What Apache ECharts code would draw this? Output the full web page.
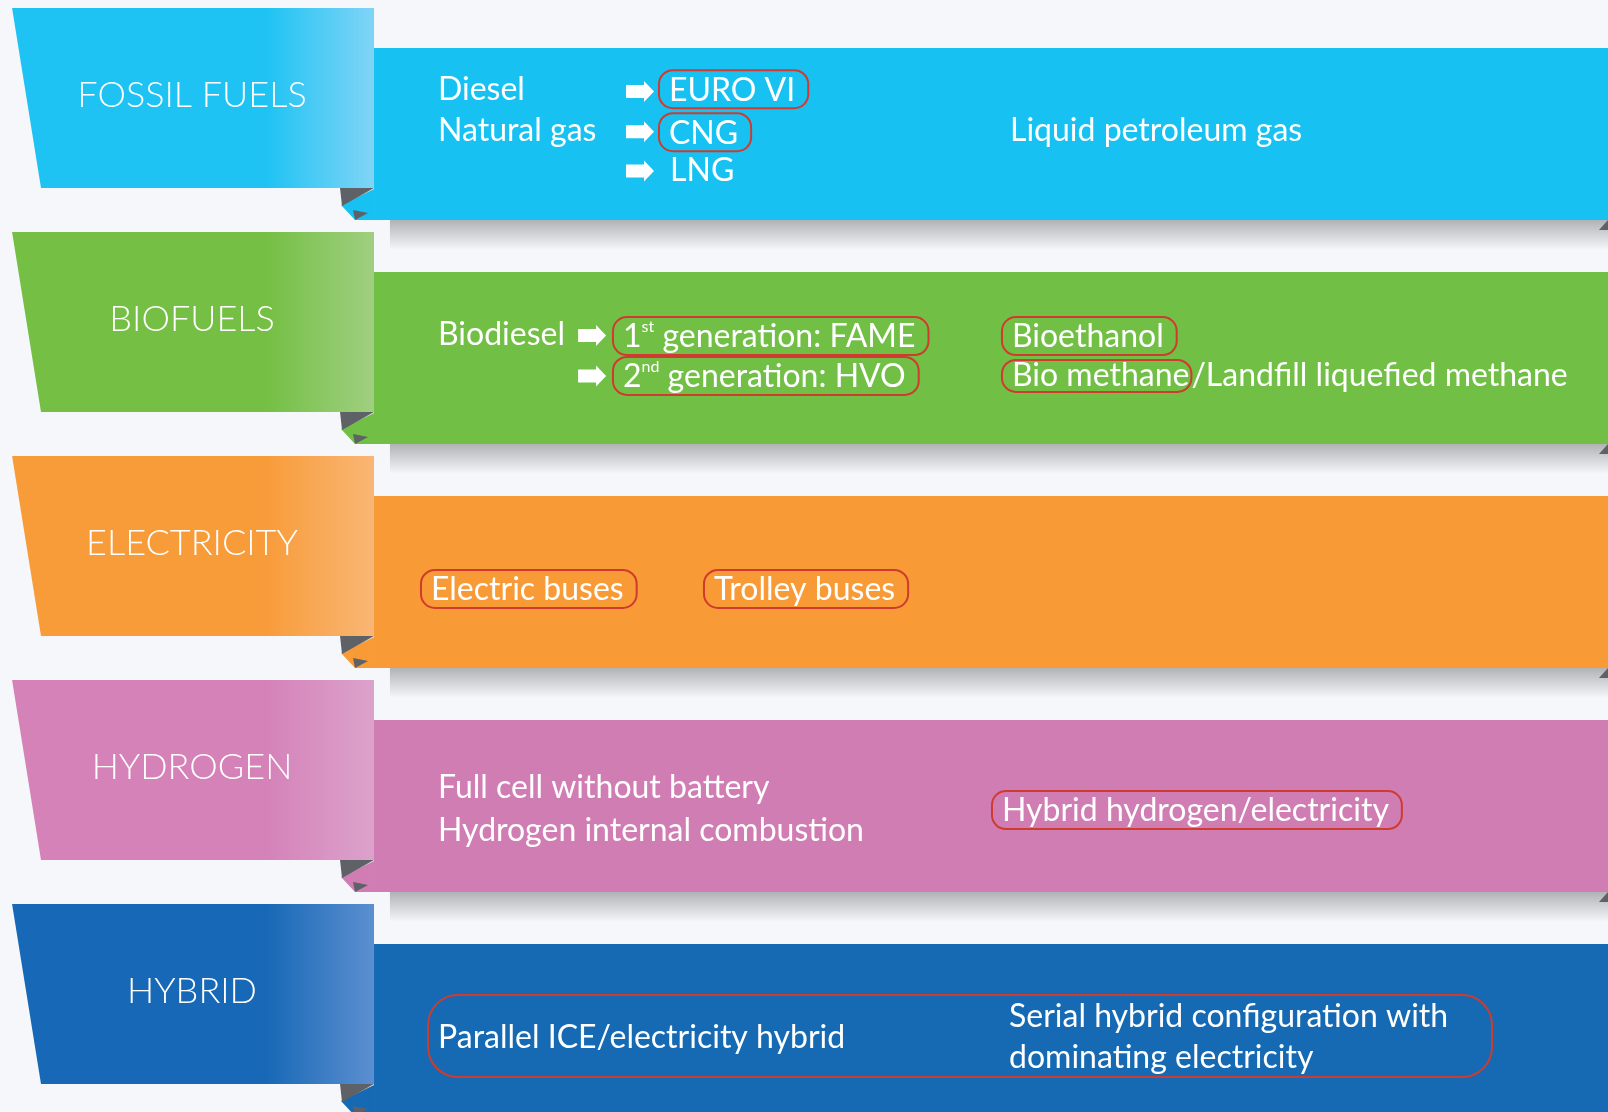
<!DOCTYPE html>
<html>
<head>
<meta charset="utf-8">
<script src="https://cdn.jsdelivr.net/npm/echarts@6/dist/echarts.min.js"></script>
<style>
  html, body { margin: 0; padding: 0; background: #f5f7fa; }
  #chart { width: 1608px; height: 1112px; }
</style>
</head>
<body>
<div id="chart"></div>
<script>
// rows of the infographic
const categories = ["FOSSIL FUELS", "BIOFUELS", "ELECTRICITY", "HYDROGEN", "HYBRID"];
const bandColors = ["#17c2f2", "#71bf45", "#f89a36", "#d07db4", "#156ab3"];
const ribbonColors = ["#1ec3f3", "#74bf44", "#f89c3a", "#d482b8", "#1768b6"];
const ribbonLight = ["#80d4f6", "#a0cf80", "#f9b674", "#dca2cc", "#5c8fd0"];

// texts inside each band: row index, text, boxed in red
const entryRow = [0, 0, 0, 0, 0, 0, 1, 1, 1, 1, 1, 2, 2, 3, 3, 3, 4, 4];
const entryText = [
  "Diesel", "Natural gas", "EURO VI", "CNG", "LNG", "Liquid petroleum gas",
  "Biodiesel", "1{sup|st} generation: FAME", "2{sup|nd} generation: HVO", "Bioethanol",
  "{b|Bio methane}/Landfill liquefied methane",
  "Electric buses", "Trolley buses",
  "Full cell without battery", "Hydrogen internal combustion", "Hybrid hydrogen/electricity",
  "Parallel ICE/electricity hybrid", "Serial hybrid configuration with\ndominating electricity"
];
const entryBoxed = [false, false, true, true, false, false,
  false, true, true, true, false,
  true, true,
  false, false, true,
  false, false];
// arrows (row index)
const arrowRow = [0, 0, 0, 1, 1];
// red frame grouping both hybrid configurations
const frameRow = [4];

// ---- layout (x in axis units 0-100, dy as fraction of a row) ----
const entryPos = [
  [27.24, -0.196], [27.24, -0.015], [40.98, -0.2], [40.98, -0.008], [41.67, 0.163], [62.81, -0.015],
  [27.24, -0.103], [38.12, -0.098], [38.12, 0.08], [62.31, -0.098], [62.31, 0.08],
  [26.18, 0.031], [43.78, 0.031],
  [27.24, -0.082], [27.24, 0.11], [61.69, 0.018],
  [27.24, 0.036], [62.75, 0.033]
];
const arrowPos = [[38.93, -0.19], [38.93, -0.01], [38.93, 0.165], [35.95, -0.1], [35.95, 0.08]];
const framePos = [[26.62, 92.79, 0.027, 0.366]];

const ribbonTopLeftX = 0.75, ribbonBotLeftX = 2.55, ribbonRightX = 23.26, titleX = 11.94;
const shadowStartX = 24.25;
const bandHalf = 0.384, ribbonTop = -0.5625, ribbonBot = 0.241, titleDy = -0.174;
const boxRed = "#cf3b2e";
const fold = "#5e6166";
const font = "Lato, 'Open Sans', sans-serif";

const chart = echarts.init(document.getElementById("chart"));

function renderRow(params, api) {
  const name = api.value(1);
  const i = params.dataIndex;
  const slot = api.size([0, 1])[1];
  const yMid = api.coord([0, name])[1];
  const xTL = api.coord([ribbonTopLeftX, name])[0];
  const xBL = api.coord([ribbonBotLeftX, name])[0];
  const xR = api.coord([ribbonRightX, name])[0];
  const xEnd = api.coord([100, name])[0];
  const xSh = api.coord([shadowStartX, name])[0];
  const bTop = yMid - bandHalf * slot, bBot = yMid + bandHalf * slot;
  const rTop = yMid + ribbonTop * slot, rBot = yMid + ribbonBot * slot;
  const title = api.coord([titleX, name])[0];
  return {
    type: "group",
    children: [
      {
        type: "rect",
        shape: { x: xSh, y: bBot, width: xEnd - xSh, height: 30 },
        style: {
          fill: new echarts.graphic.LinearGradient(0, 0, 0, 1, [
            { offset: 0, color: "rgba(0,0,0,0.28)" },
            { offset: 1, color: "rgba(0,0,0,0)" }
          ])
        }
      },
      {
        type: "rect",
        shape: { x: xR, y: bTop, width: xEnd - xR, height: bBot - bTop },
        style: { fill: bandColors[i] }
      },
      {
        type: "polygon",
        shape: { points: [[xEnd - 9, bBot + 10], [xEnd, bBot], [xEnd, bBot + 10]] },
        style: { fill: fold }
      },
      {
        type: "polygon",
        shape: { points: [[xR - 33, rBot + 17], [xR, rBot + 1], [xR, bBot], [xR - 19, bBot]] },
        style: { fill: bandColors[i] }
      },
      {
        type: "polygon",
        shape: { points: [[xR - 34, rBot], [xR, rBot], [xR - 32, rBot + 18]] },
        style: { fill: fold }
      },
      {
        type: "polygon",
        shape: { points: [[xR - 21, rBot + 22], [xR - 6, rBot + 25], [xR - 19, bBot]] },
        style: { fill: fold }
      },
      {
        type: "polygon",
        shape: { points: [[xTL, rTop], [xR, rTop], [xR, rBot], [xBL, rBot]] },
        style: {
          fill: new echarts.graphic.LinearGradient(0, 0, 1, 0, [
            { offset: 0, color: ribbonColors[i] },
            { offset: 0.7, color: ribbonColors[i] },
            { offset: 1, color: ribbonLight[i] }
          ])
        }
      },
      {
        type: "text",
        x: title,
        y: yMid + titleDy * slot,
        style: {
          text: categories[i],
          fill: "#fff",
          fontFamily: font,
          fontWeight: 300,
          fontSize: 36,
          align: "center",
          verticalAlign: "middle"
        }
      }
    ]
  };
}

function renderEntry(params, api) {
  const k = params.dataIndex;
  const slot = api.size([0, 1])[1];
  const p = api.coord([api.value(0), api.value(1)]);
  const boxed = entryBoxed[k];
  const multi = entryText[k].indexOf("\n") >= 0;
  return {
    type: "text",
    x: p[0],
    y: p[1] + entryPos[k][1] * slot,
    style: {
      text: entryText[k],
      fill: "#fff",
      fontFamily: font,
      fontSize: 32,
      lineHeight: multi ? 41 : 36,
      align: "left",
      verticalAlign: "middle",
      borderColor: boxed ? boxRed : null,
      borderWidth: boxed ? 2 : 0,
      borderRadius: 14,
      padding: boxed ? [2, 13, 0, 10] : 0,
      rich: {
        sup: { fontSize: 16, verticalAlign: "top", lineHeight: 20, fill: "#fff", fontFamily: font },
        b: {
          fontSize: 32, fontFamily: font, fill: "#fff", lineHeight: 36,
          borderColor: boxRed, borderWidth: 2, borderRadius: 14, padding: [0, 2, 0, 10]
        }
      }
    }
  };
}

function renderArrow(params, api) {
  const k = params.dataIndex;
  const slot = api.size([0, 1])[1];
  const p = api.coord([api.value(0), api.value(1)]);
  const x = p[0], y = p[1] + arrowPos[k][1] * slot;
  return {
    type: "polygon",
    shape: {
      points: [[x, y - 6.5], [x + 18, y - 6.5], [x + 18, y - 10.5], [x + 28, y],
        [x + 18, y + 10.5], [x + 18, y + 6.5], [x, y + 6.5]]
    },
    style: { fill: "#fff" }
  };
}

function renderFrame(params, api) {
  const k = params.dataIndex;
  const slot = api.size([0, 1])[1];
  const a = api.coord([framePos[k][0], api.value(1)]);
  const b = api.coord([framePos[k][1], api.value(1)]);
  const h = framePos[k][3] * slot;
  const y = a[1] + framePos[k][2] * slot - h / 2;
  return {
    type: "rect",
    shape: { x: a[0], y: y, width: b[0] - a[0], height: h, r: 30 },
    style: { fill: null, stroke: boxRed, lineWidth: 2 }
  };
}

const option = {
  backgroundColor: "#f5f7fa",
  animation: false,
  grid: { left: 0, right: 0, top: 22, height: 1120, outerBoundsMode: "none" },
  xAxis: { type: "value", min: 0, max: 100, show: false },
  yAxis: { type: "category", data: categories, inverse: true, show: false },
  series: [
    {
      type: "custom",
      renderItem: renderRow,
      data: categories.map((c) => [0, c])
    },
    {
      type: "custom",
      renderItem: renderFrame,
      data: frameRow.map((r, k) => [framePos[k][0], categories[r]])
    },
    {
      type: "custom",
      renderItem: renderArrow,
      data: arrowRow.map((r, k) => [arrowPos[k][0], categories[r]])
    },
    {
      type: "custom",
      renderItem: renderEntry,
      data: entryRow.map((r, k) => [entryPos[k][0], categories[r]])
    }
  ]
};

chart.setOption(option);
</script>
</body>
</html>
